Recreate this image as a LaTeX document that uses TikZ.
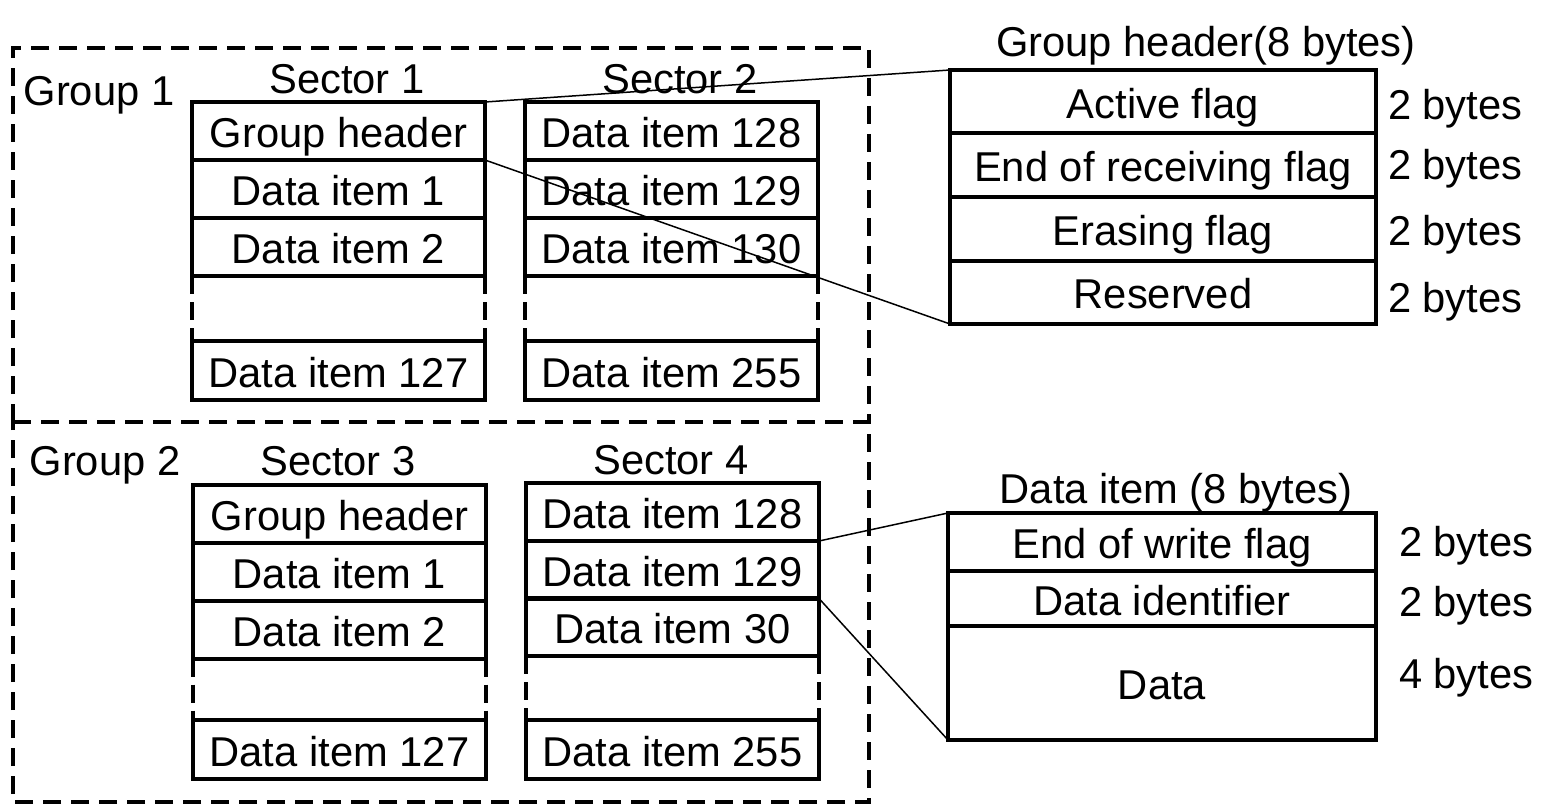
\documentclass[tikz,border=0pt]{standalone}
\usepackage{fontspec}
\setmainfont{Liberation Sans}
\begin{document}
\begin{tikzpicture}[x=1pt,y=-1pt,
  every node/.style={font=\fontsize{41.7}{50}\selectfont, text height=33pt, text depth=0pt, inner sep=0pt, outer sep=0pt},
  cell/.style={draw, line width=4pt, minimum width=293pt, minimum height=58pt},
  lbl/.style={},
  gdash/.style={line width=4pt, dash pattern=on 18pt off 10pt},
  sdash/.style={line width=4pt, dash pattern=on 18pt off 8pt},
  conn/.style={line width=1.5pt}]
\useasboundingbox (0,0) rectangle (1558,805);

% group boxes
\coordinate (g1a) at (13,422);
\coordinate (g1b) at (13,48);
\coordinate (g1c) at (869,48);
\coordinate (g1d) at (869,422);
\coordinate (g2a) at (13,802);
\coordinate (g2b) at (869,802);
\draw[gdash] (g1a) -- (g1b) -- (g1c) -- (g1d);
\draw[gdash] (g1a) -- (g1d) -- (g2b) -- (g2a) -- cycle;

\node[lbl] (grp1) at (99,89) {Group 1};
\node[lbl] (grp2) at (105,459) {Group 2};

% Sector 1
\node[lbl] (sec1) at (347,77) {Sector 1};
\node[cell] (s1a) at (338.5,131) {Group header};
\node[cell] (s1b) at (338.5,189) {Data item 1};
\node[cell] (s1c) at (338.5,247) {Data item 2};
\node[cell, minimum height=59pt] (s1e) at (338.5,370.5) {Data item 127};
\draw[sdash] (s1c.south west) -- (s1e.north west);
\draw[sdash] (s1c.south east) -- (s1e.north east);

% Sector 2
\node[lbl] (sec2) at (680,77) {Sector 2};
\node[cell] (s2a) at (671.5,131) {Data item 128};
\node[cell] (s2b) at (671.5,189) {Data item 129};
\node[cell] (s2c) at (671.5,247) {Data item 130};
\node[cell, minimum height=59pt] (s2e) at (671.5,370.5) {Data item 255};
\draw[sdash] (s2c.south west) -- (s2e.north west);
\draw[sdash] (s2c.south east) -- (s2e.north east);

% Sector 3
\node[lbl] (sec3) at (338,459) {Sector 3};
\node[cell] (s3a) at (339.5,514) {Group header};
\node[cell] (s3b) at (339.5,572) {Data item 1};
\node[cell] (s3c) at (339.5,629.5) {Data item 2};
\node[cell, minimum height=59pt] (s3e) at (339.5,749.5) {Data item 127};
\draw[sdash] (s3c.south west) -- (s3e.north west);
\draw[sdash] (s3c.south east) -- (s3e.north east);

% Sector 4
\node[lbl] (sec4) at (671,458) {Sector 4};
\node[cell] (s4a) at (672.5,512) {Data item 128};
\node[cell] (s4b) at (672.5,569.5) {Data item 129};
\node[cell] (s4c) at (672.5,627) {Data item 30};
\node[cell, minimum height=59pt] (s4e) at (672.5,749.5) {Data item 255};
\draw[sdash] (s4c.south west) -- (s4e.north west);
\draw[sdash] (s4c.south east) -- (s4e.north east);

% Group header table
\node[lbl] (ghtitle) at (1206,40) {Group header(8 bytes)};
\node[cell, minimum width=426pt, minimum height=63.5pt] (gh1) at (1163,101.75) {Active flag};
\node[cell, minimum width=426pt, minimum height=63.5pt] (gh2) at (1163,165.25) {End of receiving flag};
\node[cell, minimum width=426pt, minimum height=63.5pt] (gh3) at (1163,228.75) {Erasing flag};
\node[cell, minimum width=426pt, minimum height=63.5pt] (gh4) at (1163,292.25) {Reserved};
\node[lbl, anchor=west] (ghb1) at (1388,103) {2 bytes};
\node[lbl, anchor=west] (ghb2) at (1388,163) {2 bytes};
\node[lbl, anchor=west] (ghb3) at (1388,229) {2 bytes};
\node[lbl, anchor=west] (ghb4) at (1388,296) {2 bytes};

% Data item table
\node[lbl] (dititle) at (1176,487) {Data item (8 bytes)};
\node[cell, minimum width=428pt, minimum height=58pt] (di1) at (1162,542) {End of write flag};
\node[cell, minimum width=428pt, minimum height=55pt] (di2) at (1162,598.5) {Data identifier};
\node[cell, minimum width=428pt, minimum height=114pt] (di3) at (1162,683) {Data};
\node[lbl, anchor=west] (dib1) at (1399,540) {2 bytes};
\node[lbl, anchor=west] (dib2) at (1399,600) {2 bytes};
\node[lbl, anchor=west] (dib3) at (1399,672) {4 bytes};

% connectors
\draw[conn] (s1a.north east) -- (gh1.north west);
\draw[conn] (s1a.south east) -- (gh4.south west);
\draw[conn] (s4a.south east) -- (di1.north west);
\draw[conn] (s4b.south east) -- (di3.south west);
\end{tikzpicture}
\end{document}
